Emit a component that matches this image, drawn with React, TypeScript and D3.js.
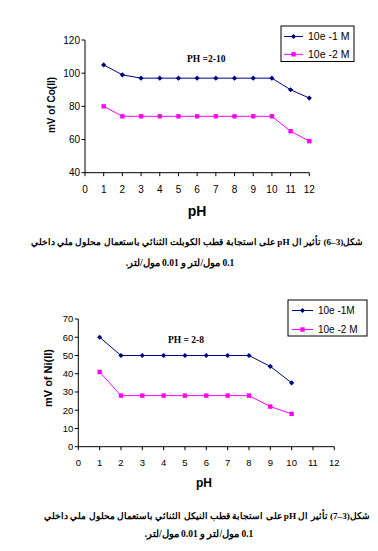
import React from "react";
import * as d3 from "d3";

const xTicks = [0, 1, 2, 3, 4, 5, 6, 7, 8, 9, 10, 11, 12];

const coPh = [1, 2, 3, 4, 5, 6, 7, 8, 9, 10, 11, 12];
const coSeries1 = [105, 99, 97, 97, 97, 97, 97, 97, 97, 97, 90, 85];
const coSeries2 = [80, 74, 74, 74, 74, 74, 74, 74, 74, 74, 65, 59];
const coYTicks = [40, 60, 80, 100, 120];

const niPh = [1, 2, 3, 4, 5, 6, 7, 8, 9, 10];
const niSeries1 = [60, 50, 50, 50, 50, 50, 50, 50, 44, 35];
const niSeries2 = [41, 28, 28, 28, 28, 28, 28, 28, 22, 18];
const niYTicks = [0, 10, 20, 30, 40, 50, 60, 70];

const seriesNames1 = ["10e -1 M", "10e -2 M"];
const seriesNames2 = ["10e -1M", "10e -2 M"];

const caption1a = "شكل(3–6) تأثير ال pH على استجابة قطب الكوبلت الثنائي باستعمال محلول ملي داخلي";
const caption1b = "0.1 مول/لتر و 0.01 مول/لتر.";
const caption2a = "شكل(3–7) تأثير ال pH على استجابة قطب النيكل الثنائي باستعمال محلول ملي داخلي";
const caption2b = "0.1 مول/لتر و 0.01 مول/لتر.";

const NAVY = "#000080";
const MAGENTA = "#FF00FF";
const SANS = "Arial, 'Liberation Sans', sans-serif";
const SERIF = "'Times New Roman', 'Liberation Serif', serif";

function Diamond({ x, y }: { x: number; y: number }) {
  const s = 2.6;
  return <path d={`M${x},${y - s}L${x + s},${y}L${x},${y + s}L${x - s},${y}Z`} fill={NAVY} />;
}
function Square({ x, y }: { x: number; y: number }) {
  const s = 2.2;
  return <rect x={x - s} y={y - s} width={2 * s} height={2 * s} fill={MAGENTA} />;
}

type ChartProps = {
  x0: number; x1: number; yTop: number; yBot: number;
  yDomain: [number, number]; yTicks: number[];
  ph: number[]; s1: number[]; s2: number[];
  tickFont: number; tickLabelY: number;
  pHLabelX: number; pHLabelY: number; pHFont: number;
  yLabel: string; yLabelX: number; yLabelY: number; yLabelFont: number;
  note: string; noteX: number; noteY: number;
  legend: { x: number; y: number; w: number; h: number; l1: number; l2: number; lineX0: number; lineX1: number; textX: number; font: number; names: string[] };
};

function Chart(p: ChartProps) {
  const x = d3.scaleLinear().domain([0, 12]).range([p.x0, p.x1]);
  const y = d3.scaleLinear().domain(p.yDomain).range([p.yBot, p.yTop]);
  const line = d3.line<number>().x((_, i) => x(p.ph[i])).y((d) => y(d));
  const L = p.legend;
  return (
    <g>
      <line x1={p.x0} x2={p.x0} y1={y(p.yDomain[1])} y2={p.yBot} stroke="#000" strokeWidth={1} />
      <line x1={p.x0} x2={p.x1} y1={p.yBot} y2={p.yBot} stroke="#000" strokeWidth={1} />
      {p.yTicks.map((t) => (
        <g key={"y" + t}>
          <line x1={p.x0 - 3.5} x2={p.x0} y1={y(t)} y2={y(t)} stroke="#000" />
          <text x={p.x0 - 5} y={y(t) + p.tickFont * 0.36} textAnchor="end" fontFamily={SANS} fontSize={p.tickFont}>{t}</text>
        </g>
      ))}
      {xTicks.map((t) => (
        <g key={"x" + t}>
          <line x1={x(t)} x2={x(t)} y1={p.yBot} y2={p.yBot + 3.5} stroke="#000" />
          <text x={x(t)} y={p.tickLabelY} textAnchor="middle" fontFamily={SANS} fontSize={p.tickFont}>{t}</text>
        </g>
      ))}
      <text x={p.pHLabelX} y={p.pHLabelY} textAnchor="middle" fontFamily={SANS} fontWeight="bold" fontSize={p.pHFont}>pH</text>
      <text transform={`translate(${p.yLabelX},${p.yLabelY}) rotate(-90)`} textAnchor="middle" fontFamily={SANS} fontWeight="bold" fontSize={p.yLabelFont}>{p.yLabel}</text>
      <text x={p.noteX} y={p.noteY} fontFamily={SERIF} fontWeight="bold" fontSize={9.5}>{p.note}</text>
      <path d={line(p.s1) || ""} fill="none" stroke={NAVY} strokeWidth={1} />
      <path d={line(p.s2) || ""} fill="none" stroke={MAGENTA} strokeWidth={1} />
      {p.s1.map((v, i) => <Diamond key={"a" + i} x={x(p.ph[i])} y={y(v)} />)}
      {p.s2.map((v, i) => <Square key={"b" + i} x={x(p.ph[i])} y={y(v)} />)}
      <rect x={L.x} y={L.y} width={L.w} height={L.h} fill="#fff" stroke="#000" strokeWidth={1} />
      <line x1={L.lineX0} x2={L.lineX1} y1={L.l1} y2={L.l1} stroke={NAVY} />
      <Diamond x={(L.lineX0 + L.lineX1) / 2} y={L.l1} />
      <text x={L.textX} y={L.l1 + L.font * 0.36} fontFamily={SANS} fontSize={L.font}>{L.names[0]}</text>
      <line x1={L.lineX0} x2={L.lineX1} y1={L.l2} y2={L.l2} stroke={MAGENTA} />
      <Square x={(L.lineX0 + L.lineX1) / 2} y={L.l2} />
      <text x={L.textX} y={L.l2 + L.font * 0.36} fontFamily={SANS} fontSize={L.font}>{L.names[1]}</text>
    </g>
  );
}

function Caption({ x, y, text, size }: { x: number; y: number; text: string; size: number }) {
  return (
    <text x={x} y={y} textAnchor="middle" direction="rtl" fontFamily={SERIF} fontWeight="bold" fontSize={size}>{text}</text>
  );
}

export default function App() {
  return (
    <svg width={378} height={551} style={{ position: "absolute", left: 0, top: 0, background: "#fff" }}>
      <rect x={0} y={0} width={378} height={551} fill="#fff" />
      <Chart
        x0={85} x1={309.3} yTop={40} yBot={172.7} yDomain={[40, 120]} yTicks={coYTicks}
        ph={coPh} s1={coSeries1} s2={coSeries2}
        tickFont={10} tickLabelY={193}
        pHLabelX={197} pHLabelY={216} pHFont={14}
        yLabel="mV of Co(II)" yLabelX={55} yLabelY={105} yLabelFont={10}
        note="PH =2-10" noteX={187} noteY={62}
        legend={{ x: 281, y: 26, w: 73, h: 35.5, l1: 36.5, l2: 54.3, lineX0: 284, lineX1: 303, textX: 308, font: 10.5, names: seriesNames1 }}
      />
      <Caption x={197} y={245} text={caption1a} size={9.2} />
      <Caption x={180} y={266} text={caption1b} size={9.5} />
      <Chart
        x0={78.3} x1={334.3} yTop={319} yBot={446.7} yDomain={[0, 70]} yTicks={niYTicks}
        ph={niPh} s1={niSeries1} s2={niSeries2}
        tickFont={9.5} tickLabelY={466}
        pHLabelX={204} pHLabelY={487} pHFont={12}
        yLabel="mV of Ni(II)" yLabelX={52} yLabelY={378} yLabelFont={11}
        note="PH = 2-8" noteX={168} noteY={342.5}
        legend={{ x: 288, y: 300, w: 79, h: 36, l1: 310.5, l2: 329.5, lineX0: 292, lineX1: 313, textX: 318, font: 10, names: seriesNames2 }}
      />
      <Caption x={207} y={519} text={caption2a} size={9.2} />
      <Caption x={199} y={537} text={caption2b} size={9.5} />
    </svg>
  );
}
